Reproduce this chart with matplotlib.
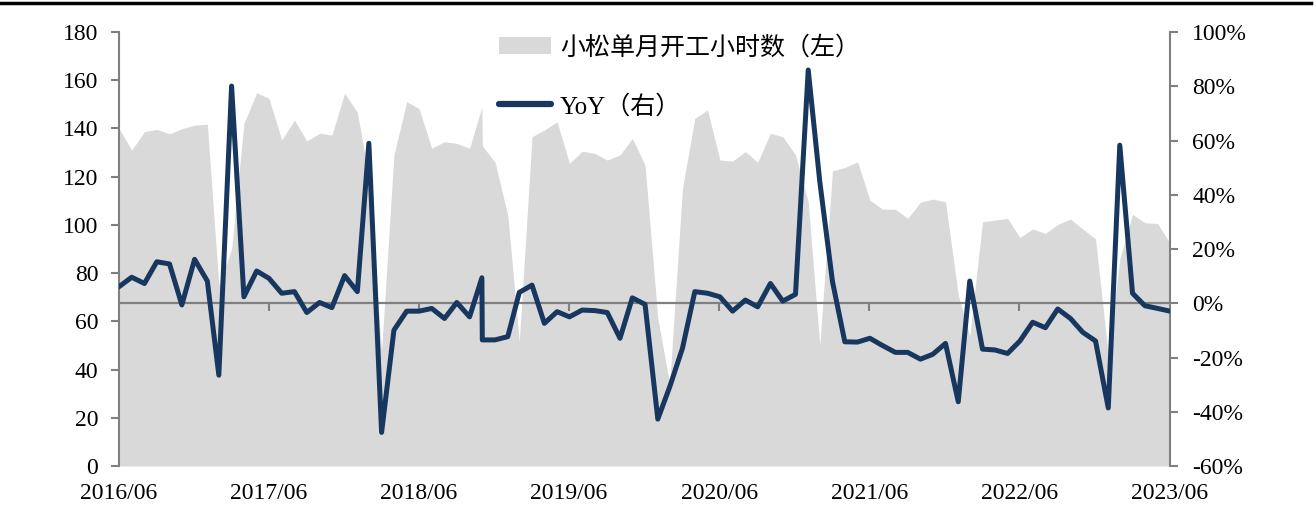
import matplotlib
matplotlib.use("Agg")
import matplotlib.pyplot as plt
import matplotlib.patches as patches
from matplotlib.lines import Line2D
from matplotlib.ticker import FuncFormatter
import pandas as pd

plt.rcParams['font.family'] = ['Liberation Serif', 'Noto Sans CJK SC']

# Daty: do 2018/11 koniec miesiaca, potem poczatek miesiaca (tak jak w zrodle)
daty = list(pd.date_range('2016-07-01', '2018-12-01', freq='MS') - pd.Timedelta(days=1)) + \
    list(pd.date_range('2018-12-01', '2023-07-01', freq='MS'))

# Godziny pracy (lewa os)
godziny = [
    140, 131, 138.7, 139.6, 137.8, 139.9, 141.4, 141.8, 75, 90,
    142.1, 154.8, 152.5, 135.2, 143.5, 134.8, 138, 137.3, 154.6, 146.7,
    120, 48, 129, 151.1, 148.3, 131.8, 134.5, 133.8, 131.8, 149,
    132.8,
    126, 104, 51.6, 136.6, 139.4, 142.8, 125.5, 130.6, 129.6, 126.9,
    129, 135.9, 124.8, 61.3, 34, 115.2, 144.2, 147.7, 126.9, 126.5,
    130.4, 126, 138, 136.6, 129, 109.6, 50.2, 122.4, 123.8, 126.2,
    110.3, 106.5, 106.5, 102.7, 109.4, 110.7, 109.6, 71, 54, 101.3,
    102, 102.7, 94.8, 98.3, 96.5, 100.2, 102.4, 98.3, 94.2, 46,
    86, 104.4, 100.9, 100.6, 92.4,
]

# YoY w % (prawa os)
yoy = [
    6.1, 9.6, 7.3, 15.3, 14.5, -0.6, 16.2, 8.2, -26.5, 80.1,
    2.4, 11.9, 9.2, 3.7, 4.3, -3.4, 0.3, -1.6, 10.2, 4.3,
    59, -47.6, -9.9, -2.9, -2.9, -1.9, -5.6, 0.3, -5, 9.4,
    -13.5,
    -13.5, -12.3, 4, 6.7, -7.4, -3.1, -5, -2.5, -2.7, -3.4,
    -12.9, 2, -0.4, -42.7, -30.8, -16.6, 4.3, 3.7, 2.4, -2.9,
    1.2, -1.3, 7.3, 0.8, 3.3, 86, 45, 8, -14.2, -14.3,
    -12.9, -15.6, -18.1, -18.1, -20.6, -18.8, -14.8, -36.3, 8.2, -16.9,
    -17.2, -18.5, -13.9, -7, -9, -2.1, -5.6, -10.7, -13.9, -38.6,
    58.3, 3.7, -0.9, -1.9, -2.9,
]

lata = [pd.Timestamp(f'{r}-06-30') for r in range(2016, 2024)]
etykiety_x = [d.strftime('%Y/%m') for d in lata]

etykieta_godziny = '小松单月开工小时数（左）'
etykieta_yoy = 'YoY（右）'

szary = '#d9d9d9'
granat = '#17375e'
os_kolor = '#808080'

fig, ax = plt.subplots(figsize=(13.16, 5.17), dpi=100)
fig.subplots_adjust(left=0.0904, right=0.889, bottom=0.0986, top=0.938)

# Pole - godziny
ax.fill_between(daty, godziny, color=szary, linewidth=0)
ax.set_ylim(0, 180)
ax.set_yticks(range(0, 181, 20))
ax.set_xlim(daty[0], daty[-1])
ax.set_xticks(lata)
ax.set_xticklabels(etykiety_x)

# Linia - YoY
ax2 = ax.twinx()
ax2.axhline(0, color=os_kolor, linewidth=1.6, zorder=1)
ax2.plot(lata[1:-1], [0] * (len(lata) - 2), linestyle='none', marker=3,
         markersize=6, markeredgewidth=1.5, color=os_kolor, zorder=1)
ax2.plot(daty, yoy, color=granat, linewidth=3.6, solid_joinstyle='round',
         solid_capstyle='round', zorder=3)
ax2.set_ylim(-60, 100)
ax2.set_yticks(range(-60, 101, 20))
ax2.yaxis.set_major_formatter(FuncFormatter(lambda v, p: f'{v:.0f}%'))
ax2.set_xlim(daty[0], daty[-1])

for a in (ax, ax2):
    a.spines['top'].set_visible(False)
    a.spines['bottom'].set_visible(False)
ax.spines['right'].set_visible(False)
ax2.spines['left'].set_visible(False)
ax.spines['left'].set_color(os_kolor)
ax.spines['left'].set_linewidth(1.5)
ax2.spines['right'].set_color(os_kolor)
ax2.spines['right'].set_linewidth(1.5)

ax.tick_params(axis='y', direction='out', length=6, width=1.5, color=os_kolor,
               labelsize=17, pad=9)
ax2.tick_params(axis='y', direction='out', length=6, width=1.5, color=os_kolor,
                labelsize=17, pad=10)
ax.tick_params(axis='x', length=0, labelsize=17, pad=12)

# Legenda
uchwyty = [
    patches.Patch(facecolor=szary, edgecolor='none', label=etykieta_godziny),
    Line2D([], [], color=granat, linewidth=4.5, solid_capstyle='round', label=etykieta_yoy),
]
ax2.legend(handles=uchwyty, loc='upper left', bbox_to_anchor=(0.352, 1.015),
           frameon=False, fontsize=18, handlelength=2.1, handletextpad=0.35,
           labelspacing=1.4, borderaxespad=0)

# Czarna linia na gorze
fig.add_artist(Line2D([0, 0.996], [0.995, 0.995], color='black', linewidth=2.5,
                      transform=fig.transFigure))

fig.savefig('out.png', dpi=100)
